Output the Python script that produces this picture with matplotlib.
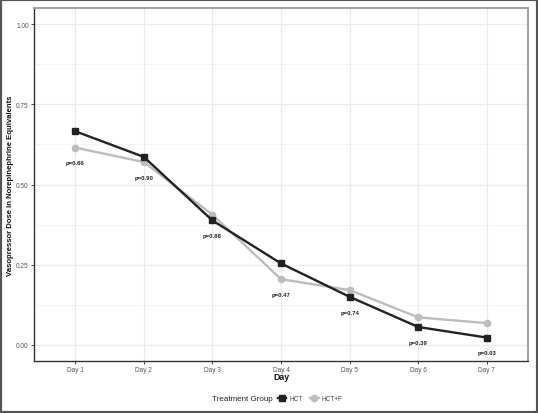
import matplotlib
matplotlib.use("Agg")
import matplotlib.pyplot as plt
from matplotlib.lines import Line2D
from matplotlib.patches import Rectangle

days = ["Day 1", "Day 2", "Day 3", "Day 4", "Day 5", "Day 6", "Day 7"]
hct = [0.666, 0.586, 0.388, 0.254, 0.150, 0.056, 0.023]
hct_f = [0.615, 0.570, 0.406, 0.205, 0.171, 0.086, 0.068]
p_labels = ["p=0.66", "p=0.90", "p=0.88", "p=0.47", "p=0.74", "p=0.39", "p=0.03"]
y_ticks = [0.00, 0.25, 0.50, 0.75, 1.00]

plt.rcParams['font.family'] = ['Liberation Sans', 'DejaVu Sans']

W, H = 538, 414
fig = plt.figure(figsize=(W / 100, H / 100), dpi=100)
ax = fig.add_axes([34 / W, 1 - 362 / H, (528 - 34) / W, (362 - 9) / H])

x = list(range(1, len(days) + 1))
ax.plot(x, hct_f, color="#bdbdbd", lw=1.7, marker="o", ms=4.5, mec="#bdbdbd", mfc="#bdbdbd", zorder=3)
ax.plot(x, hct, color="#222222", lw=1.7, marker="s", ms=4.5, mec="#222222", mfc="#222222", zorder=4)

for xi, a, b, lab in zip(x, hct, hct_f, p_labels):
    ax.text(xi, min(a, b) - 0.048, lab, ha="center", va="center", fontsize=4.3,
            fontweight="bold", color="#222222", zorder=5)

ax.set_xlim(0.4, 7.6)
ax.set_ylim(-0.05, 1.05)
ax.set_xticks(x)
ax.set_xticklabels(days)
ax.set_yticks(y_ticks)
ax.set_yticklabels([f"{v:.2f}" for v in y_ticks])
ax.set_yticks([0.125, 0.375, 0.625, 0.875], minor=True)
ax.grid(True, which="major", color="#ebebeb", lw=0.9)
ax.grid(True, which="minor", axis="y", color="#f3f3f3", lw=0.6)
ax.set_axisbelow(True)
ax.tick_params(axis="both", which="major", labelsize=4.7, colors="#444444", length=2.2, width=0.7, pad=1.5)
ax.tick_params(axis="y", which="minor", length=0)
for lbl in ax.get_xticklabels() + ax.get_yticklabels():
    lbl.set_color("#555555")

for s in ["left", "bottom"]:
    ax.spines[s].set_color("#333333")
    ax.spines[s].set_linewidth(1.0)
for s in ["top", "right"]:
    ax.spines[s].set_color("#a0a0a0")
    ax.spines[s].set_linewidth(1.4)

ax.set_xlabel("Day", fontsize=6.3, fontweight="bold", color="#111111")
ax.xaxis.set_label_coords((281 - 34) / 494, -(377.5 - 362) / 353)
ax.xaxis.label.set_va("center")
ax.set_ylabel("Vasopressor Dose in Norepinephrine Equivalents", fontsize=5.6, fontweight="bold", color="#111111")
ax.yaxis.set_label_coords(-(34 - 11) / 494, (362 - 186) / 353)
ax.yaxis.label.set_va("center")

fig.text(212 / W, 1 - 400 / H, "Treatment Group", fontsize=5.8, color="#222222", ha="left", va="center")
handles = [
    Line2D([0], [0], color="#222222", lw=1.7, marker="s", ms=4.5),
    Line2D([0], [0], color="#bdbdbd", lw=1.7, marker="o", ms=4.5),
]
leg = fig.legend(handles, ["HCT", "HCT+F"], loc="center left",
                 bbox_to_anchor=(278 / W, 1 - 400 / H), ncol=2, frameon=False,
                 fontsize=4.7, handlelength=1.3, handletextpad=0.5,
                 columnspacing=1.1, borderaxespad=0, borderpad=0)
for t in leg.get_texts():
    t.set_color("#444444")

fig.patches.append(Rectangle((0, 0), 1, 1, transform=fig.transFigure, fill=False,
                             edgecolor="#555555", lw=3))

fig.savefig("out.png", dpi=100)
